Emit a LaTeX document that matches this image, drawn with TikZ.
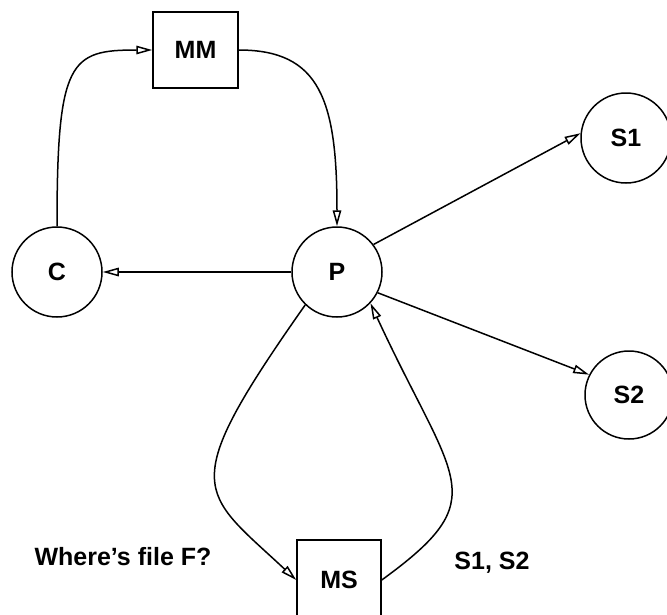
\documentclass[tikz,border=0pt]{standalone}
\usepackage{fontspec}
\setmainfont{Liberation Sans}
\usetikzlibrary{arrows.meta}
\begin{document}
\begin{tikzpicture}[x=1pt,y=-1pt,
  every node/.style={font=\fontsize{25}{30}\selectfont\bfseries},
  circ/.style={draw,circle,line width=1.5pt,minimum size=90pt,inner sep=0pt},
  boxnode/.style={draw,rectangle,line width=1.5pt,inner sep=0pt},
  link/.style={line width=1.5pt,-{Triangle[open,length=16pt,width=8.5pt]}},
  lbl/.style={inner sep=0pt,anchor=base}]
\useasboundingbox (0,0) rectangle (667,614);
% nodes
\node[boxnode,minimum width=85pt,minimum height=76pt] (MM) at (195.5,50) {MM};
\node[circ] (C) at (57,272) {C};
\node[circ] (P) at (337,272) {P};
\node[circ] (S1) at (626,138) {S1};
\node[circ,minimum size=88pt] (S2) at (629,395) {S2};
\node[boxnode,minimum width=84pt,minimum height=80pt] (MS) at (339,580) {MS};
% labels
\node[lbl] (q) at (123,565) {Where’s file F?};
\node[lbl] (ans) at (492,569) {S1, S2};
% connectors
\draw[link] (C.north) .. controls (57,60) and (70,50) .. (MM.west);
\draw[link] (MM.east) .. controls (320,50) and (337,100) .. (P.north);
\draw[link] (P.west) -- (C.east);
\draw[link] (P.37) -- (S1.174);
\draw[link] (P.-27) -- (S2.153);
\draw[link] (P.226) .. controls (175,490) and (200,490) .. (MS.west);
\draw[link] (MS.east) .. controls (496,497) and (454,484) .. (P.-43);
\end{tikzpicture}
\end{document}
